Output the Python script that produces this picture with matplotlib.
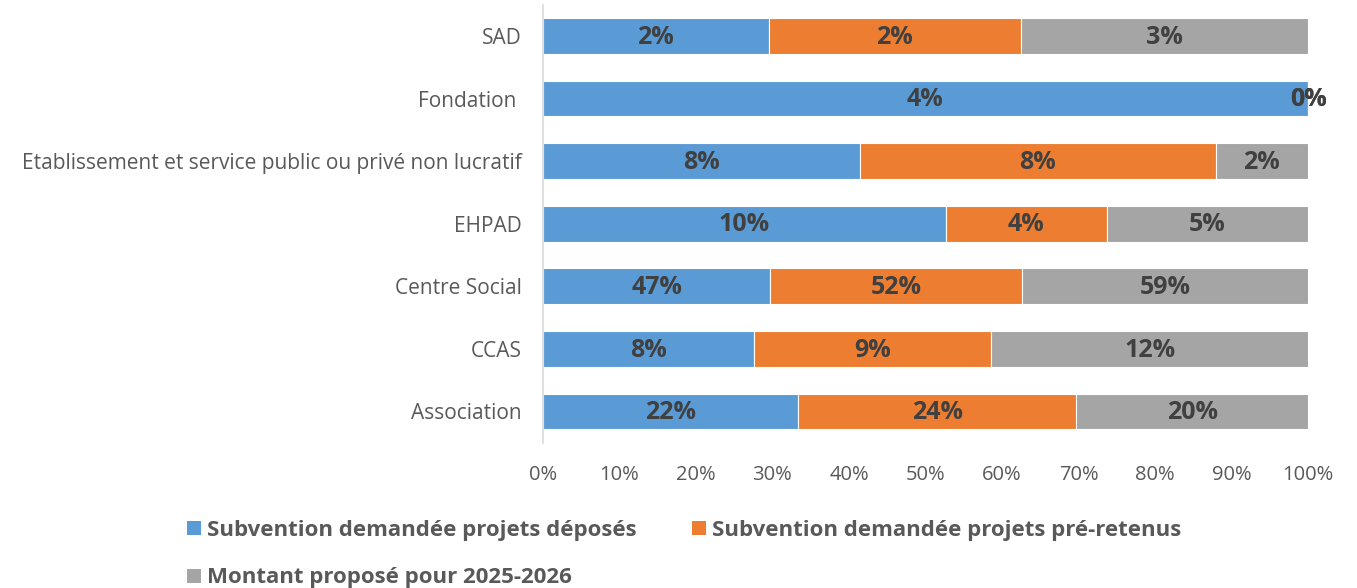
import numpy as np
import matplotlib
matplotlib.use("Agg")
import matplotlib.pyplot as plt
from matplotlib.patches import Patch

plt.rcParams['font.family'] = ['Open Sans', 'DejaVu Sans']

# categories, bottom to top
categories = ["Association", "CCAS", "Centre Social", "EHPAD",
              "Etablissement et service public ou privé non lucratif",
              "Fondation ", "SAD"]

# share of each series (%) per category
deposes = [22, 8, 47, 10, 7.55, 4, 2.2]
pre_retenus = [24, 9, 52, 4, 8.45, 0, 2.45]
propose = [20, 12, 59, 5, 2.2, 0, 2.8]

series_names = ["Subvention demandée projets déposés",
                "Subvention demandée projets pré-retenus",
                "Montant proposé pour 2025-2026"]
colors = ["#5B9BD5", "#ED7D31", "#A5A5A5"]

data = np.array([deposes, pre_retenus, propose], dtype=float)
totals = data.sum(axis=0)
shares = data / totals * 100

fig = plt.figure(figsize=(13.57, 5.88), dpi=100)
ax = fig.add_axes([0.400, 0.247, 0.564, 0.745])

y = np.arange(len(categories))
left = np.zeros(len(categories))
for i in range(3):
    ax.barh(y, shares[i], left=left, height=0.57, color=colors[i],
            edgecolor="white", linewidth=0.8)
    for j in range(len(categories)):
        ax.text(left[j] + shares[i][j] / 2, y[j] - 0.02, f"{data[i][j]:.0f}%",
                ha="center", va="center", fontsize=18, fontweight="bold",
                color="#404040")
    left = left + shares[i]

ax.set_xlim(0, 100)
ax.set_ylim(-0.5, len(categories) - 0.5)
ax.set_yticks(y)
ax.set_yticklabels(categories, fontsize=15, color="#595959")
ax.set_xticks(np.arange(0, 101, 10))
ax.set_xticklabels([f"{v}%" for v in range(0, 101, 10)], fontsize=14.5,
                   color="#595959")
ax.tick_params(axis="both", length=0)
ax.tick_params(axis="x", pad=16)
ax.tick_params(axis="y", pad=15)
for s in ["top", "right", "bottom"]:
    ax.spines[s].set_visible(False)
ax.spines["left"].set_color("#D9D9D9")
ax.spines["left"].set_linewidth(1.2)

# legend filled column by column: put entries so rows read like the original
order = [0, 2, 1]
handles = [Patch(facecolor=colors[k], edgecolor="none") for k in order]
labels = [series_names[k] for k in order]
leg = fig.legend(handles, labels, loc="upper left", ncol=2,
                 bbox_to_anchor=(0.138, 0.116), frameon=False,
                 prop={"weight": "bold", "size": 16}, handlelength=0.6,
                 handleheight=0.6, handletextpad=0.3, columnspacing=2.5,
                 labelspacing=1.2, borderaxespad=0, borderpad=0)
for t in leg.get_texts():
    t.set_color("#595959")

fig.savefig("out.png", dpi=100)
